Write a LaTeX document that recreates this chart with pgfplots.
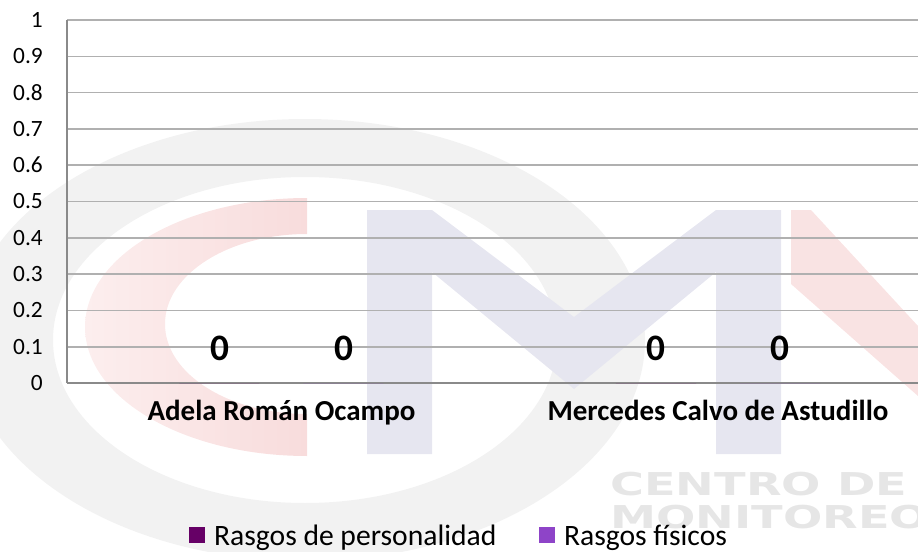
\documentclass[border=0pt]{standalone}
\usepackage{pgfplots}
\pgfplotsset{compat=1.18}
\usepackage{fontspec}
\setmainfont{Carlito}
\newfontfamily\wmfont{DejaVu Sans}
\definecolor{serA}{HTML}{660066}
\definecolor{serB}{HTML}{8E44C8}
\definecolor{gridc}{HTML}{B0B0B0}
\definecolor{axisc}{HTML}{8A8A8A}
\definecolor{wmgray}{HTML}{F2F2F2}
\definecolor{wmpinkL}{HTML}{FCEEEE}
\definecolor{wmpink}{HTML}{F8DCDC}
\definecolor{wmblue}{HTML}{E6E6F0}
\definecolor{wmtext}{HTML}{E6E6E6}

\begin{document}
\begin{tikzpicture}
\path[use as bounding box] (0,0) rectangle (688.5pt,413.25pt);

% faint logo behind the chart (pixel units, origin bottom left)
\begin{scope}[x=0.75pt,y=0.75pt]
  \fill[wmgray, even odd rule] (305,211) ellipse[x radius=340, y radius=221]
                                (305,211) ellipse[x radius=252, y radius=163];
  \shade[left color=wmpinkL, right color=wmpink]
     (307,353) arc[start angle=90, end angle=270, x radius=222, y radius=129]
     -- (307,137) arc[start angle=270, end angle=90, x radius=142, y radius=90] -- cycle;
  \fill[wmblue] (367,97) -- (367,341) -- (432,341) -- (574,234) -- (716,341) -- (781,341)
     -- (781,97) -- (716,97) -- (716,279) -- (574,162) -- (432,279) -- (432,97) -- cycle;
  \fill[wmpink!80!white] (791,341) -- (811,341) -- (918,225) -- (918,155) -- (791,267) -- cycle;
  \node[anchor=base west, inner sep=0pt, text=wmtext, xscale=1.47]
     at (610,56) {\wmfont\bfseries\fontsize{23.6pt}{26pt}\selectfont CENTRO DE};
  \node[anchor=base west, inner sep=0pt, text=wmtext, xscale=1.47]
     at (610,23) {\wmfont\bfseries\fontsize{23.6pt}{26pt}\selectfont MONITOREO};
\end{scope}

\begin{axis}[
  at={(50.25pt,126pt)}, anchor=south west,
  scale only axis, width=638.25pt, height=272.25pt,
  xmin=-0.4914, xmax=1.4582, ymin=0, ymax=1,
  ybar=33pt, bar width=60pt,
  xtick={0,1},
  xticklabels={Adela Román Ocampo, Mercedes Calvo de Astudillo},
  ytick={0,0.1,0.2,0.3,0.4,0.5,0.6,0.7,0.8,0.9,1},
  ymajorgrids, major grid style={draw=gridc, line width=1.2pt},
  axis x line*=bottom, axis y line*=left,
  axis line style={draw=axisc, line width=1.5pt, -},
  major tick length=0pt,
  /pgf/number format/assume math mode=true,
  yticklabel style={anchor=east, inner sep=0pt, xshift=-18pt,
    font=\fontsize{17.5pt}{20pt}\selectfont},
  xticklabel style={anchor=base, inner sep=0pt, yshift=-27.75pt,
    font=\bfseries\fontsize{21.75pt}{26pt}\selectfont},
  nodes near coords={\bfseries\fontsize{28pt}{32pt}\selectfont\pgfmathprintnumber{\pgfplotspointmeta}},
  every node near coord/.append style={anchor=base, yshift=17.25pt, inner sep=0pt,
    text=black},
  legend columns=2,
  legend style={at={(0.4595,-0.4215)}, anchor=center, draw=none, fill=none,
    font=\fontsize{22.2pt}{26pt}\selectfont,
    nodes={inner sep=0pt},
    /tikz/every odd column/.append style={column sep=6.75pt},
    /tikz/every even column/.append style={column sep=32pt}},
  legend image code/.code={\fill[#1] (0pt,-5pt) rectangle (12pt,7pt);},
]
\addplot[fill=serA, draw=none] coordinates {(0,0) (1,0)};
\addlegendentry{Rasgos de personalidad}
\addplot[fill=serB, draw=none] coordinates {(0,0) (1,0)};
\addlegendentry{Rasgos físicos}
\end{axis}
\end{tikzpicture}
\end{document}
